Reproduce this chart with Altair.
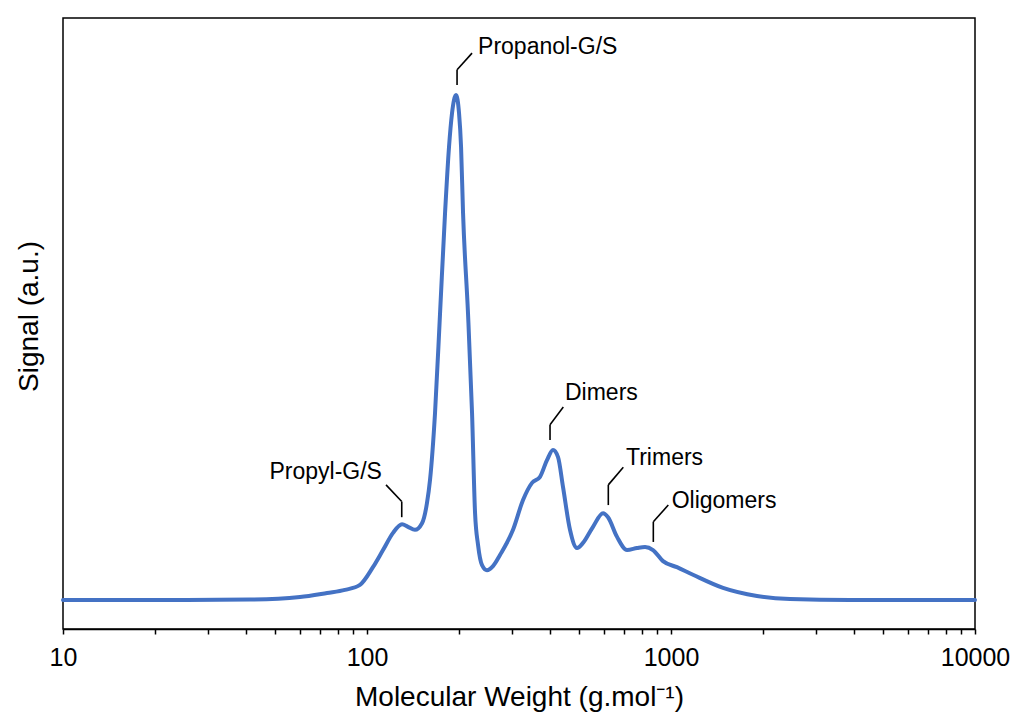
import altair as alt
import pandas as pd

# Molecular weight (g/mol) and normalised signal
mw = [10, 19.3, 41.2, 60.2, 73.9, 84.6, 94.8, 104.6, 112.9, 121.8, 130.4, 136.4,
      143.8, 151.7, 157.5, 161.2, 167.4, 173.9, 180.6, 186.1, 190.4, 196.3, 200.8,
      203.9, 207.0, 214.9, 221.6, 226.7, 231.9, 239.0, 248.1, 259.7, 273.8, 302.2,
      326.0, 349.0, 370.8, 390.9, 409.1, 425.0, 441.3, 465.3, 490.7, 513.4, 553.9,
      597.5, 620.6, 664.5, 716.8, 773.3, 821.5, 872.7, 941.2, 1046, 1181, 1483,
      1918, 2463, 3880, 10000]
signal = [0, 0, 0.001, 0.006, 0.014, 0.020, 0.030, 0.065, 0.099, 0.133, 0.150, 0.145,
          0.139, 0.152, 0.192, 0.238, 0.370, 0.568, 0.766, 0.897, 0.964, 1.000, 0.964,
          0.897, 0.766, 0.568, 0.370, 0.172, 0.109, 0.069, 0.059, 0.067, 0.089, 0.139,
          0.198, 0.232, 0.244, 0.277, 0.297, 0.283, 0.224, 0.139, 0.103, 0.113, 0.145,
          0.172, 0.164, 0.125, 0.099, 0.103, 0.105, 0.099, 0.077, 0.065, 0.050, 0.024,
          0.008, 0.002, 0, 0]

# Annotation labels and their leader lines (data coordinates)
labels = ["Propanol-G/S", "Propyl-G/S", "Dimers", "Trimers", "Oligomers"]
lead_x = [197.8, 130.1, 400.0, 622.0, 874.7]      # vertical part x
lead_y0 = [1.020, 0.164, 0.317, 0.188, 0.115]     # bottom of vertical part
lead_y1 = [1.050, 0.195, 0.347, 0.228, 0.155]     # top of vertical part
slant_x = [221.6, 115.5, 442.3, 696.9, 979.7]     # end of slanted part
slant_y = [1.083, 0.228, 0.382, 0.263, 0.188]
text_x = [231.9, 112.0, 448.0, 711.2, 1005]
text_y = [1.095, 0.253, 0.410, 0.281, 0.197]
text_align = ["left", "right", "left", "left", "left"]

tick_values = [10, 20, 30, 40, 50, 60, 70, 80, 90,
               100, 200, 300, 400, 500, 600, 700, 800, 900,
               1000, 2000, 3000, 4000, 5000, 6000, 7000, 8000, 9000, 10000]

FONT = "Liberation Sans, Arial, sans-serif"
BLUE = "#4472C4"

curve = pd.DataFrame({"mw": mw, "signal": signal})
segs = pd.DataFrame({
    "x": lead_x + lead_x, "x2": lead_x + slant_x,
    "y": lead_y0 + lead_y1, "y2": lead_y1 + slant_y,
})
ann = pd.DataFrame({"x": text_x, "y": text_y, "label": labels, "align": text_align})

xscale = alt.Scale(type="log", domain=[10, 10000])
yscale = alt.Scale(domain=[-0.0574, 1.1525])

xaxis = alt.Axis(
    values=tick_values, format="d",
    labelExpr="(datum.value == 10 || datum.value == 100 || datum.value == 1000 || datum.value == 10000) ? datum.label : ''",
    tickSize=5, tickWidth=1.5, tickColor="black",
    domainColor="black", domainWidth=1.5,
    labelFontSize=25, labelFont=FONT, labelColor="black", labelPadding=11,
    labelFlush=False, labelOverlap=False, labelBound=False,
    grid=False,
    title="Molecular Weight (g.mol⁻¹)", titleFont=FONT, titleFontSize=28,
    titleFontWeight="normal", titleColor="black",
    titleX=456, titleY=76, titleBaseline="alphabetic", titleAlign="center",
)
yaxis = alt.Axis(
    labels=False, ticks=False, domain=False, grid=False,
    title="Signal (a.u.)", titleFont=FONT, titleFontSize=28,
    titleFontWeight="normal", titleColor="black",
    titleAngle=270, titleX=-26, titleY=298, titleBaseline="alphabetic",
    titleAlign="center",
)

line = alt.Chart(curve).mark_line(
    color=BLUE, strokeWidth=4, interpolate="monotone", strokeCap="round", strokeJoin="round"
).encode(
    x=alt.X("mw:Q", scale=xscale, axis=xaxis),
    y=alt.Y("signal:Q", scale=yscale, axis=yaxis),
)

leaders = alt.Chart(segs).mark_rule(color="black", strokeWidth=1.6).encode(
    x=alt.X("x:Q", scale=xscale), x2="x2:Q",
    y=alt.Y("y:Q", scale=yscale), y2="y2:Q",
)

text_left = alt.Chart(ann).transform_filter(alt.datum.align == "left").mark_text(
    align="left", baseline="middle", font=FONT, fontSize=23, color="black"
).encode(x=alt.X("x:Q", scale=xscale), y=alt.Y("y:Q", scale=yscale), text="label:N")

text_right = alt.Chart(ann).transform_filter(alt.datum.align == "right").mark_text(
    align="right", baseline="middle", font=FONT, fontSize=23, color="black"
).encode(x=alt.X("x:Q", scale=xscale), y=alt.Y("y:Q", scale=yscale), text="label:N")

chart = alt.layer(line, leaders, text_left, text_right).properties(
    width=912, height=611,
    autosize=alt.AutoSizeParams(type="none"),
    padding={"left": 63, "top": 18, "right": 40, "bottom": 90},
    background="white",
).configure_view(stroke="black", strokeWidth=1.5)

chart.save("out.html", embed_options={"renderer": "svg", "actions": False})
